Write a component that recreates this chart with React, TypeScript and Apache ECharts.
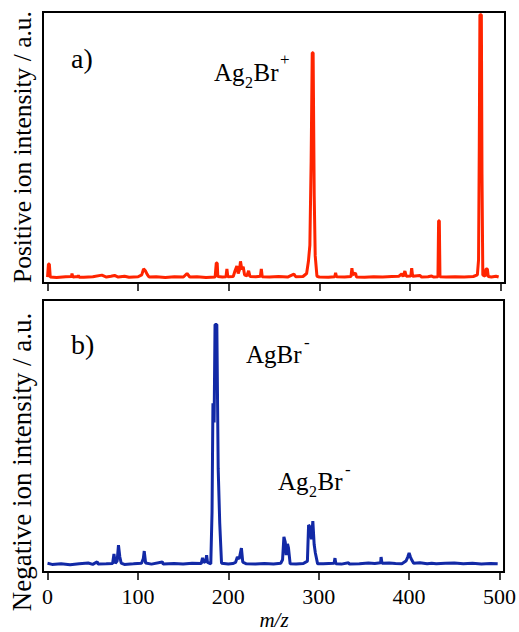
import React, { useEffect, useRef } from 'react';
import * as echarts from 'echarts';

const mzTicks = [0, 100, 200, 300, 400, 500];

const positiveSpectrum: [number, number][] = [
  [0, 2.2], [1, 7], [2, 7], [3, 2.2], [10, 2.0], [20, 2.3], [26.5, 2.4], [27, 3.5], [28, 2.2], [33.5, 2.4], [34, 2.8], [35, 2.1],
  [40, 2.1], [50, 2.3], [60, 2.9], [65, 2.2], [70, 2.5], [74, 2.8], [78, 2.2], [85, 2.5], [90, 2.1], [100, 2.3],
  [104, 3], [106, 5.2], [108, 4.5], [110, 3.2], [112, 2.2], [120, 2.3], [130, 2.0], [140, 2.3], [150, 2.2],
  [154, 3.5], [157, 2.2], [165, 2.3], [175, 2.0], [185, 2.2], [186.3, 7.4], [187.3, 7.4], [188, 2.4], [193, 2.2],
  [197, 2.3], [198, 5.2], [199, 2.3], [205, 2.4], [207, 4.5], [209, 6.3], [210.5, 3.5], [212, 5], [213, 8],
  [214.5, 5], [216, 6], [217.5, 3], [220, 2.6], [222, 4.5], [223.5, 2.4], [230, 2.3], [235, 2.5], [236, 5.2],
  [237, 2.3], [245, 2.2], [255, 2.4], [265, 2.2], [272, 3.3], [274, 2.3], [282, 2.4], [286, 3.5], [288, 8],
  [289.6, 14], [291, 45], [292.2, 85], [293.2, 85], [294.4, 32], [295.5, 10], [297.4, 2.5], [300, 2.2],
  [310, 2.1], [317, 2.3], [318, 3.7], [319, 2.3], [328, 2.2], [335, 2.4], [336, 5.5], [337, 3], [340, 3.7],
  [341, 2.2], [350, 2.1], [360, 2.3], [370, 2.2], [380, 2.4], [388, 2.5], [391, 3.4], [392.5, 2.4], [394.5, 4.4],
  [396, 2.5], [401, 2.6], [402, 5.5], [403, 2.5], [411, 2.8], [413, 2.2], [420, 2.3], [424, 2.6], [426, 2.2],
  [431, 2.3], [431.7, 23], [432.5, 23], [433.2, 2.3], [440, 2.2], [450, 2.3], [460, 2.2], [470, 2.4],
  [474.5, 3], [475.8, 8.5], [476.6, 50], [477.3, 99], [478.9, 99], [479.6, 40], [480.5, 3], [483, 2.5],
  [484, 5.2], [485.5, 5.2], [486.5, 2.4], [490, 2.2], [495, 2.5], [498, 2.2],
];

const negativeSpectrum: [number, number][] = [
  [0, 3.2], [5, 2.8], [15, 3.0], [25, 2.7], [35, 3.0], [45, 3.3], [50, 2.8], [55, 3.8], [56, 2.9], [65, 3.0],
  [72, 3.1], [73.5, 6.6], [75, 3.2], [77, 4], [78.5, 9.9], [80, 5.5], [81.5, 3.3], [85, 2.8], [95, 3.0],
  [104, 3.2], [106, 5], [107, 7.7], [108.5, 3.3], [115, 2.9], [127, 3.7], [128, 2.9], [140, 3.1], [150, 2.9],
  [160, 3.2], [170, 3.1], [171.5, 5.2], [173, 3.5], [175, 4], [176, 6.2], [177, 3.5], [180.6, 3], [182, 22],
  [183, 62], [184.3, 55], [185.3, 91], [187.3, 91], [188.8, 38], [190.5, 18], [192.5, 3.2], [200, 2.9],
  [205, 3.1], [208, 3.5], [210, 5.5], [212, 4.8], [214.5, 8.8], [216, 3.6], [220, 3], [230, 2.9], [240, 3.1],
  [250, 2.9], [258, 3.2], [260, 4.5], [261.5, 12.9], [263, 11], [264, 6.2], [265.5, 10.3], [266.5, 9],
  [268.4, 3], [275, 2.9], [283, 3.1], [287.5, 4], [288.8, 17.3], [290.4, 16.5], [292, 12], [293.5, 18.7],
  [295, 10], [296.3, 7], [298.8, 3], [305, 3.0], [317, 3.2], [318, 5.1], [319, 3], [325, 2.9], [333, 3.4],
  [334, 2.9], [345, 3.0], [355, 3.3], [362, 3.1], [368.5, 3.4], [369, 5.5], [370, 3.2], [378, 3.3], [385, 3.1],
  [392, 3.0], [396.5, 4], [398.5, 5.5], [400, 7], [401.5, 5.5], [403, 4.4], [405, 3.2], [412, 3.4], [420, 3.0],
  [425, 3.2], [430, 3.0], [440, 3.2], [450, 3.3], [460, 3.0], [470, 3.2], [480, 2.9], [490, 3.1], [498, 3.0],
];

const SERIF = 'Liberation Serif';

function txt(text: string, x: number, y: number, size: number, extra: any = {}) {
  const { style: extraStyle, ...rest } = extra;
  return {
    type: 'text',
    x,
    y,
    silent: true,
    ...rest,
    style: {
      text,
      fontFamily: SERIF,
      fontSize: size,
      fill: '#000',
      align: 'left',
      verticalAlign: 'middle',
      textAlign: 'left',
      textVerticalAlign: 'middle',
      ...(extraStyle || {}),
    },
  };
}

export default function App() {
  const ref = useRef<HTMLDivElement>(null);
  useEffect(() => {
    document.body.style.margin = '0';
    const chart = echarts.init(ref.current!, null, { renderer: 'svg' });
    const xAxis = (idx: number, showLabels: boolean) => ({
      type: 'value',
      gridIndex: idx,
      min: -5,
      max: 505,
      axisLine: { show: false },
      splitLine: { show: false },
      axisTick: {
        show: true,
        customValues: mzTicks,
        length: 8,
        inside: false,
        lineStyle: { color: '#000', width: 1.5 },
      },
      axisLabel: {
        show: showLabels,
        customValues: mzTicks,
        fontFamily: SERIF,
        fontSize: 22,
        color: '#000',
        margin: 13,
      },
    });
    const yAxis = (idx: number) => ({
      type: 'value',
      gridIndex: idx,
      min: 0,
      max: 100,
      show: false,
    });
    const option: any = {
      animation: false,
      textStyle: { fontFamily: SERIF },
      grid: [
        { left: 43, top: 12, width: 462, height: 271, show: true, borderColor: '#000', borderWidth: 2 },
        { left: 43, top: 300, width: 462, height: 272, show: true, borderColor: '#000', borderWidth: 2 },
      ],
      xAxis: [xAxis(0, false), xAxis(1, true)],
      yAxis: [yAxis(0), yAxis(1)],
      series: [
        {
          type: 'line',
          xAxisIndex: 0,
          yAxisIndex: 0,
          data: positiveSpectrum,
          showSymbol: false,
          lineStyle: { color: '#ff2400', width: 3 },
          clip: true,
        },
        {
          type: 'line',
          xAxisIndex: 1,
          yAxisIndex: 1,
          data: negativeSpectrum,
          showSymbol: false,
          lineStyle: { color: '#1229a6', width: 3 },
          clip: true,
        },
      ],
      graphic: [
        txt('Positive ion intensity / a.u.', 22, 147, 25.5, { rotation: Math.PI / 2, style: { align: 'center', textAlign: 'center' } }),
        txt('Negative ion intensity / a.u.', 22, 462, 27, { rotation: Math.PI / 2, style: { align: 'center', textAlign: 'center' } }),
        txt('m/z', 274, 620, 21, { style: { align: 'center', textAlign: 'center', fontStyle: 'italic' } }),
        txt('a)', 71, 58, 28),
        txt('b)', 71, 344, 28),
        // Ag2Br+
        txt('Ag', 214, 72, 25),
        txt('2', 245, 82, 16),
        txt('Br', 253.5, 72, 25),
        txt('+', 280, 59, 17),
        // AgBr-
        txt('AgBr', 246, 354, 25),
        txt('-', 304, 342, 17),
        // Ag2Br-
        txt('Ag', 278, 481, 25),
        txt('2', 309, 491, 16),
        txt('Br', 317.5, 481, 25),
        txt('-', 345, 469, 17),
      ],
    };
    chart.setOption(option);
    return () => chart.dispose();
  }, []);
  return <div ref={ref} style={{ width: 519, height: 632 }} />;
}
